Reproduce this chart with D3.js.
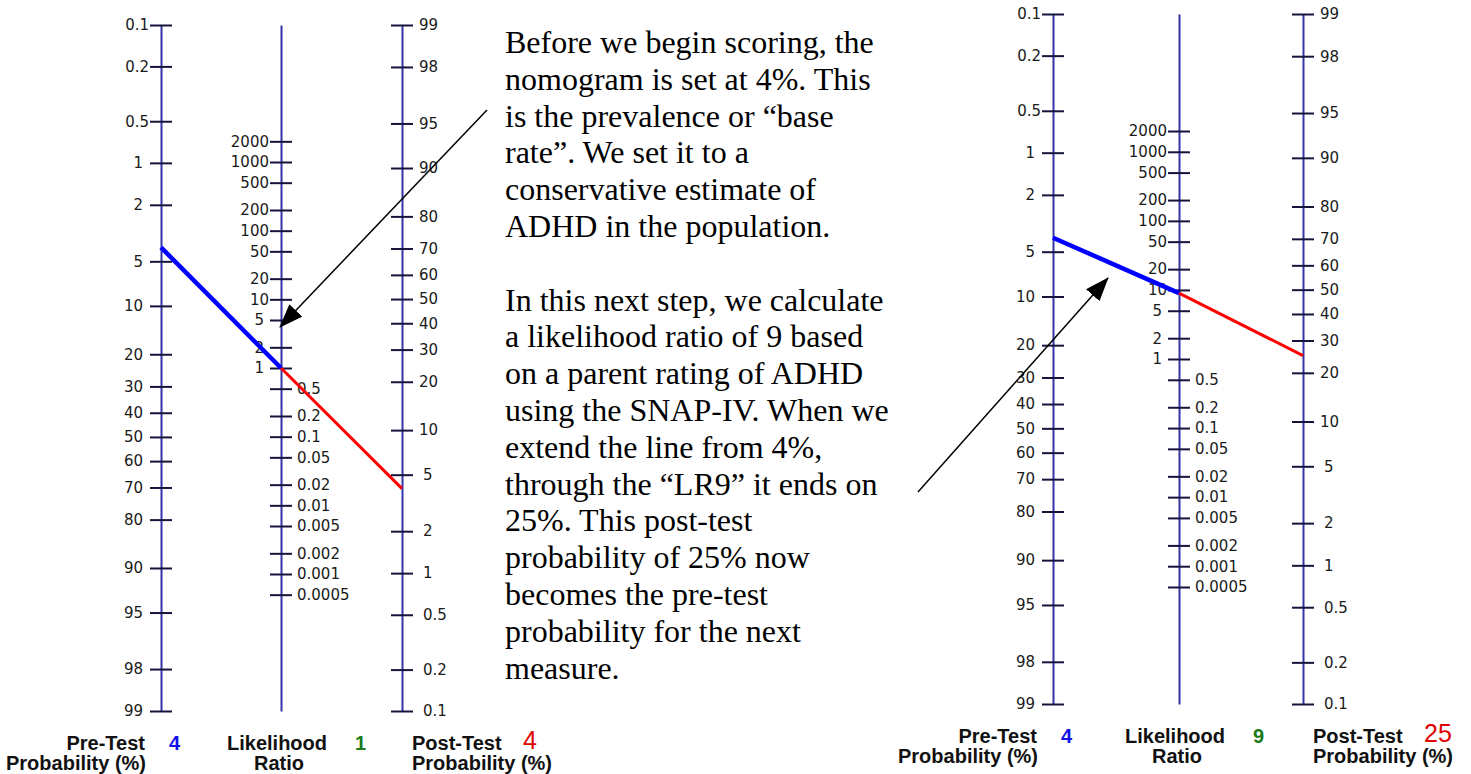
<!DOCTYPE html>
<html>
<head>
<meta charset="utf-8">
<title>Fagan nomogram</title>
<style>
    * {
        margin: 0;
        padding: 0;
    }
    body {
        background: #fff;
        overflow: hidden;
    }
    svg {
        display: block;
    }
</style>
<script src="https://cdn.jsdelivr.net/npm/d3@7/dist/d3.min.js"></script>
</head>
<body>
<div id="root"></div>
<script>
    // tick values of the three scales
    var preTicks = [0.1, 0.2, 0.5, 1, 2, 5, 10, 20, 30, 40, 50, 60, 70, 80, 90, 95, 98, 99];
    var postTicks = [99, 98, 95, 90, 80, 70, 60, 50, 40, 30, 20, 10, 5, 2, 1, 0.5, 0.2, 0.1];
    var lrTicks = [2000, 1000, 500, 200, 100, 50, 20, 10, 5, 2, 1, 0.5, 0.2, 0.1, 0.05, 0.02, 0.01, 0.005, 0.002, 0.001, 0.0005];

    // the two nomogram readings (left, right)
    var preTest = [4, 4];
    var likelihoodRatio = [1, 9];
    var postTest = [4, 25];

    var textLines = [
        "Before we begin scoring, the",
        "nomogram is set at 4%. This",
        "is the prevalence or \u201cbase",
        "rate\u201d. We set it to a",
        "conservative estimate of",
        "ADHD in the population.",
        "",
        "In this next step, we calculate",
        "a likelihood ratio of 9 based",
        "on a parent rating of ADHD",
        "using the SNAP-IV. When we",
        "extend the line from 4%,",
        "through the \u201cLR9\u201d it ends on",
        "25%. This post-test",
        "probability of 25% now",
        "becomes the pre-test",
        "probability for the next",
        "measure."
    ];

    var width = 1471;
    var height = 774;
    var axisColor = "#3434a8";
    var tickColor = "#14143c";

    var layout = [
        { xPre: 161, xLR: 281, xPost: 402, top: 25, bottom: 711 },
        { xPre: 1053, xLR: 1179, xPost: 1303, top: 14, bottom: 704 }
    ];

    var svg = d3.select("#root").append("svg").attr("width", width).attr("height", height);

    var defs = svg.append("defs");
    defs.append("marker").attr("id", "head")
        .attr("markerUnits", "userSpaceOnUse")
        .attr("viewBox", "0 0 24 18")
        .attr("markerWidth", 24).attr("markerHeight", 18)
        .attr("refX", 23).attr("refY", 9)
        .attr("orient", "auto")
        .append("path").attr("d", "M0,0 L24,9 L0,18 Z").attr("fill", "#000");

    function logit(v) {
        var p = v / 100;
        return Math.log(p / (1 - p));
    }

    function styleAxis(g, gap) {
        g.attr("font-family", "DejaVu Sans").attr("font-size", 15);
        g.select(".domain").attr("stroke", axisColor).attr("stroke-width", 2);
        g.selectAll(".tick line").attr("x1", -11).attr("x2", 11)
            .attr("stroke", tickColor).attr("stroke-width", 2);
        g.selectAll(".tick text").attr("fill", "#1a1a1a").each(function (d, i) {
            var t = d3.select(this);
            var g2 = gap(d, t.text());
            t.attr("x", g2).attr("text-anchor", g2 < 0 ? "end" : "start");
        });
    }

    function renderNomogram(c, i) {
        var lo = logit(0.1), hi = logit(99);
        var range = hi - lo;
        var pre = d3.scaleLinear().domain([lo, hi]).range([c.top, c.bottom]);
        var post = d3.scaleLinear().domain([hi, lo]).range([c.top, c.bottom]);
        var lr = d3.scaleLog().domain([Math.exp(range), Math.exp(-range)]).range([c.top, c.bottom]);

        var g = svg.append("g").attr("class", "nomogram");

        var preAxis = d3.axisLeft(pre).tickSize(0).tickSizeOuter(0)
            .tickValues(preTicks.map(logit))
            .tickFormat(function (d, k) { return String(preTicks[k]); });
        g.append("g").attr("transform", "translate(" + c.xPre + ",0)").call(preAxis)
            .call(styleAxis, function (d, s) { return s.indexOf(".") >= 0 ? -12 : -18; });

        var lrAxis = d3.axisLeft(lr).tickSize(0).tickSizeOuter(0)
            .tickValues(lrTicks)
            .tickFormat(function (d) { return String(d); });
        g.append("g").attr("transform", "translate(" + c.xLR + ",0)").call(lrAxis)
            .call(styleAxis, function (d, s) {
                if (d < 1) return 16;
                return s.length >= 2 ? -12 : -17;
            });

        var postAxis = d3.axisRight(post).tickSize(0).tickSizeOuter(0)
            .tickValues(postTicks.map(logit))
            .tickFormat(function (d, k) { return String(postTicks[k]); });
        g.append("g").attr("transform", "translate(" + c.xPost + ",0)").call(postAxis)
            .call(styleAxis, function (d, s) { return (s.length === 2 && s.indexOf(".") < 0) ? 17 : 21; });

        // reading line: blue from pre-test to LR, red from LR to post-test
        var p0 = [c.xPre, pre(logit(preTest[i]))];
        var p1 = [c.xLR, lr(likelihoodRatio[i])];
        var p2 = [c.xPost, post(logit(postTest[i]))];
        var line = d3.line();
        g.append("path").attr("d", line([p1, p2])).attr("fill", "none")
            .attr("stroke", "#ff0000").attr("stroke-width", 3);
        g.append("path").attr("d", line([p0, p1])).attr("fill", "none")
            .attr("stroke", "#0000ff").attr("stroke-width", 4.5);

        // captions under the scales
        var y1 = c.bottom + 39;
        var y2 = y1 + 20;
        var cap = g.append("g").attr("font-family", "Liberation Sans").attr("font-weight", "bold")
            .attr("font-size", 20).attr("fill", "#111");
        cap.append("text").attr("x", c.xPre - 16).attr("y", y1).attr("text-anchor", "end").text("Pre-Test");
        cap.append("text").attr("x", c.xPre - 15).attr("y", y2).attr("text-anchor", "end").text("Probability (%)");
        cap.append("text").attr("x", c.xLR - 4).attr("y", y1).attr("text-anchor", "middle").text("Likelihood");
        cap.append("text").attr("x", c.xLR - 2).attr("y", y2).attr("text-anchor", "middle").text("Ratio");
        cap.append("text").attr("x", c.xPost + 10).attr("y", y1).text("Post-Test");
        cap.append("text").attr("x", c.xPost + 10).attr("y", y2).text("Probability (%)");

        cap.append("text").attr("x", c.xPre + 8).attr("y", y1).attr("fill", "#1010e8").text(preTest[i]);
        cap.append("text").attr("x", c.xLR + 74).attr("y", y1).attr("fill", "#1b7a1b").text(likelihoodRatio[i]);
        cap.append("text").attr("x", c.xPost + 121).attr("y", y1 - 1).attr("fill", "#e00000")
            .attr("font-weight", "normal").attr("font-size", 25).text(postTest[i]);
    }

    layout.forEach(renderNomogram);

    // explanatory text
    var para = svg.append("text").attr("font-family", "Liberation Serif").attr("font-size", 32).attr("fill", "#000");
    textLines.forEach(function (t, k) {
        para.append("tspan").attr("x", 505).attr("y", 53 + k * 36.8).text(t);
    });

    // annotation arrows
    var arrows = [
        [[487, 110], [280, 327]],
        [[918, 492], [1108, 278]]
    ];
    svg.append("g").selectAll("path").data(arrows).enter().append("path")
        .attr("d", function (d) { return d3.line()(d); })
        .attr("stroke", "#000").attr("stroke-width", 1.5).attr("fill", "none")
        .attr("marker-end", "url(#head)");
</script>
</body>
</html>
